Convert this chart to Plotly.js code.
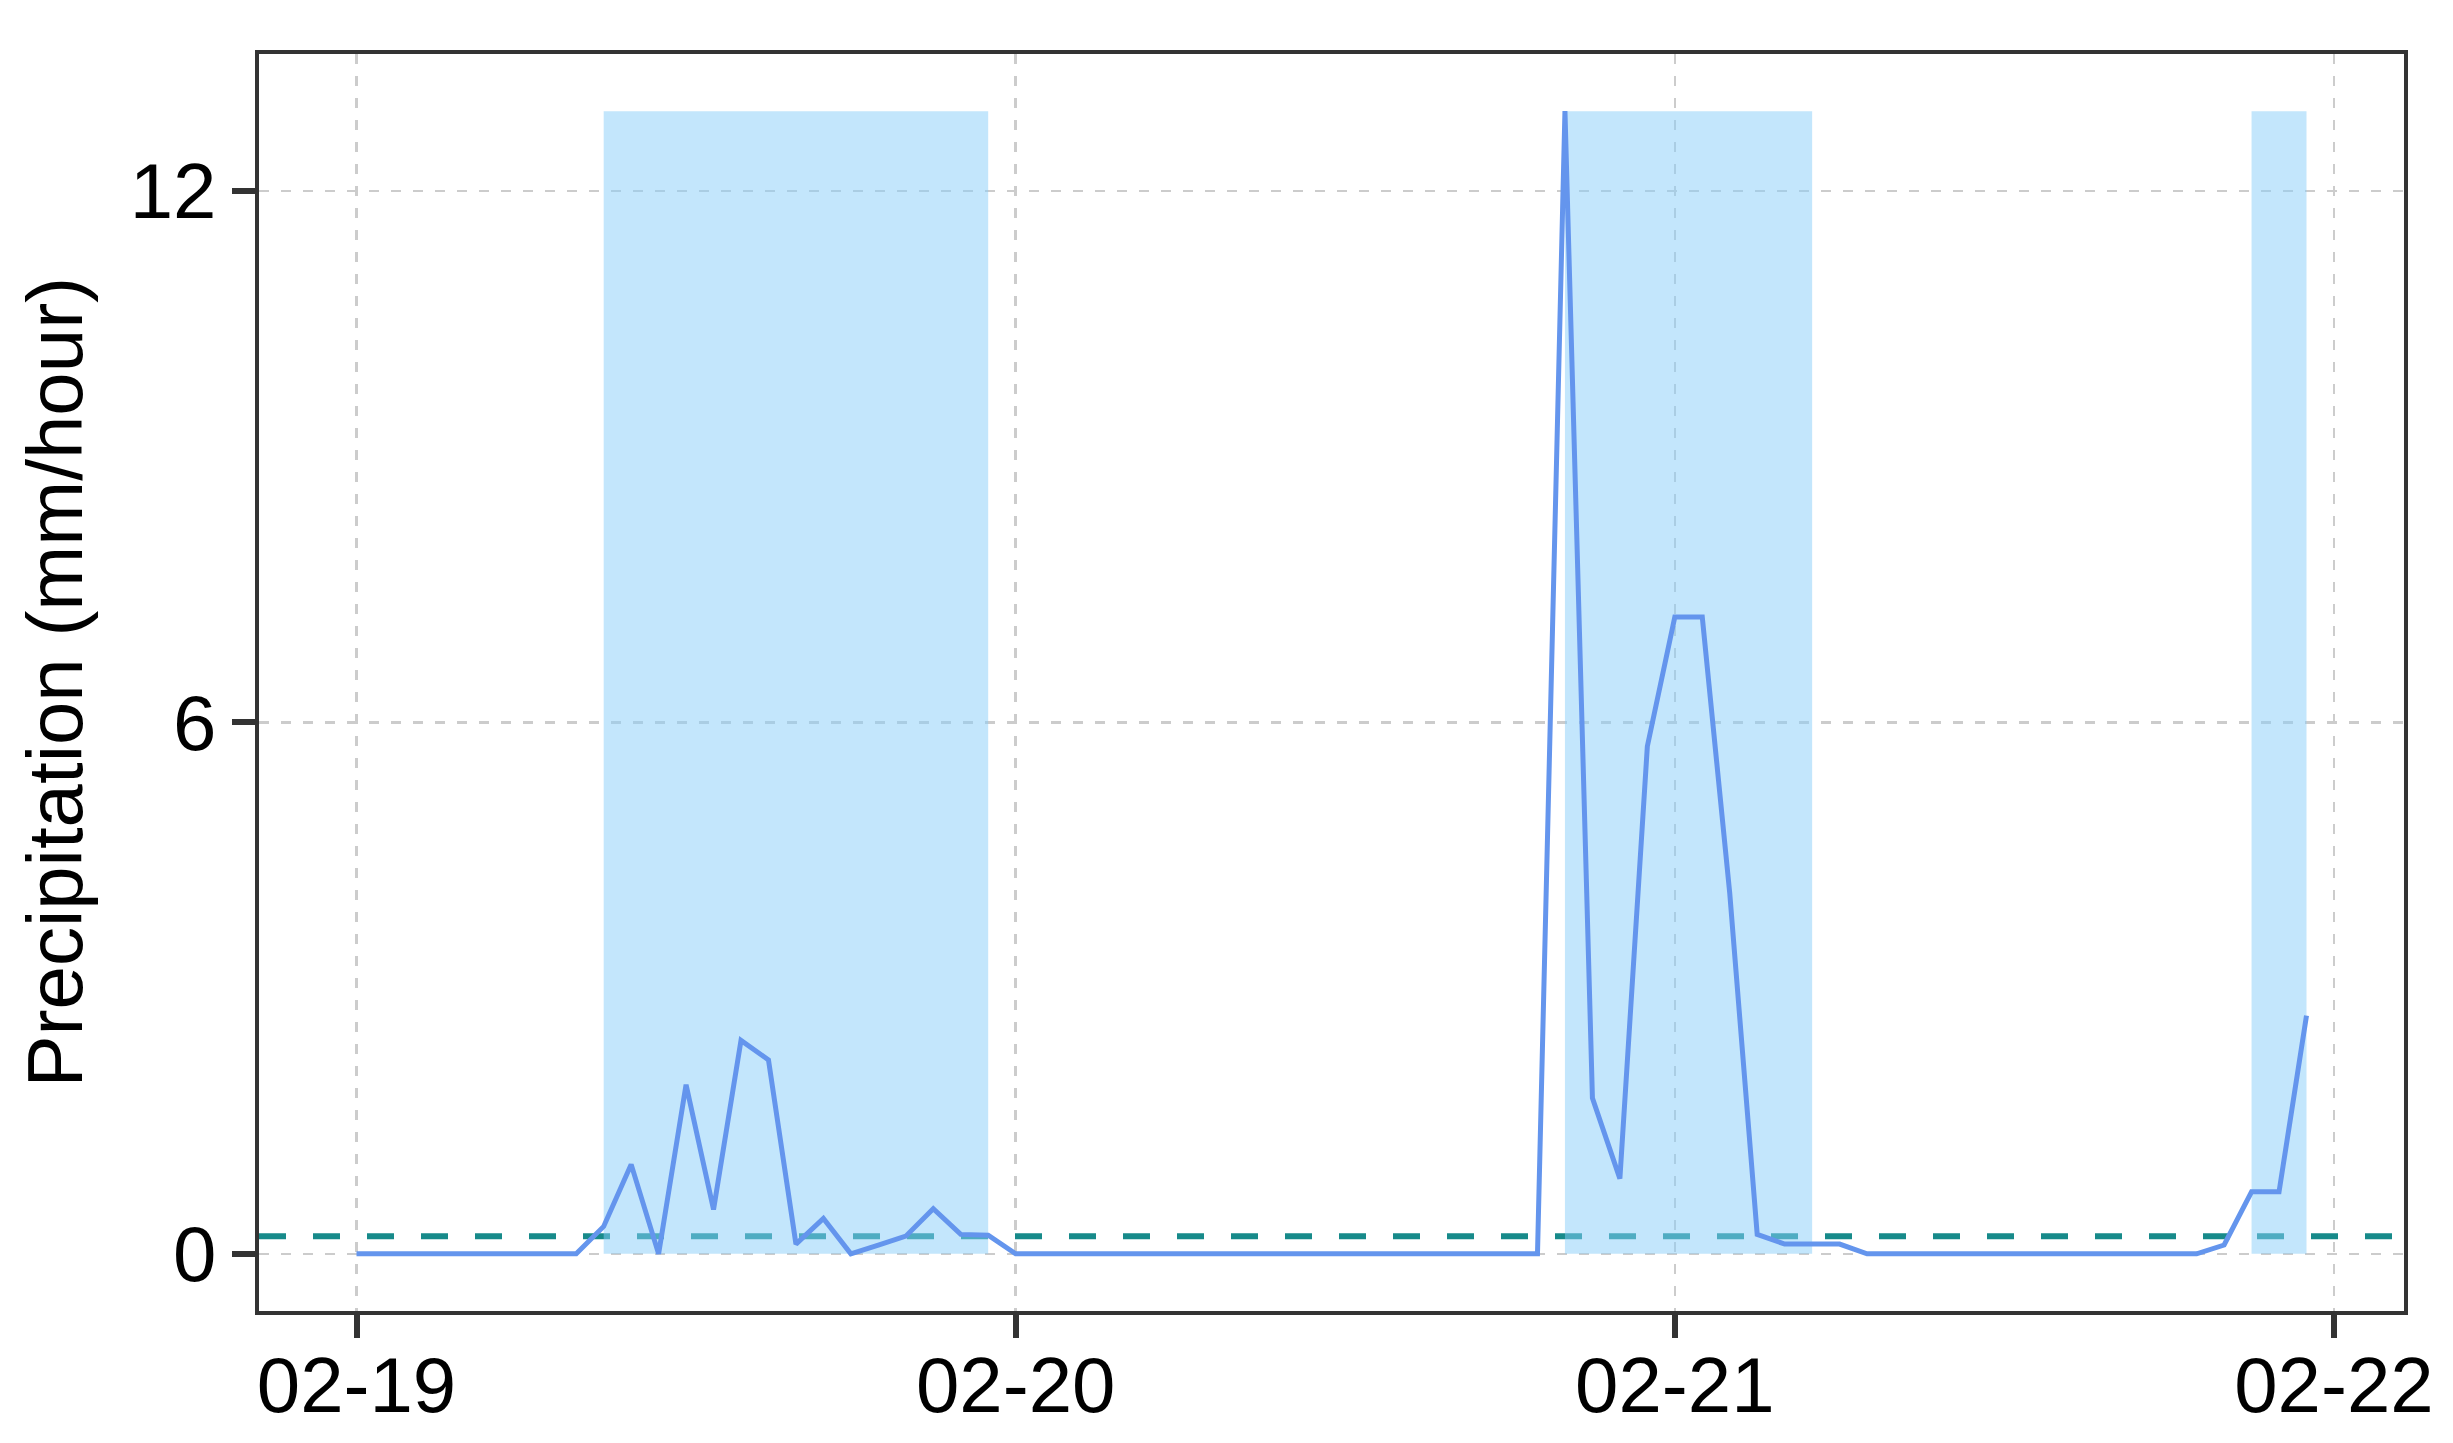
<!DOCTYPE html>
<html>
<head>
<meta charset="utf-8">
<script src="https://cdn.plot.ly/plotly-3.0.1.min.js"></script>
<style>
  html, body { margin: 0; padding: 0; background: #ffffff; }
  #chart { width: 2453px; height: 1443px; }
</style>
</head>
<body>
<div id="chart"></div>
<script>
// hourly precipitation, starting 02-19 00:00
const startTime = "2019-02-19T00:00:00";
const precip = [
    0, 0, 0, 0, 0, 0, 0, 0, 0, 0.31, 1.01, 0,
    1.91, 0.50, 2.41, 2.19, 0.11, 0.40, 0, 0.10, 0.20, 0.51, 0.22, 0.21,
    0, 0, 0, 0, 0, 0, 0, 0, 0, 0, 0, 0,
    0, 0, 0, 0, 0, 0, 0, 0, 12.9, 1.76, 0.85, 5.73,
    7.19, 7.19, 4.07, 0.22, 0.11, 0.11, 0.11, 0, 0, 0, 0, 0,
    0, 0, 0, 0, 0, 0, 0, 0, 0.10, 0.70, 0.70, 2.69
];

// rain events (shaded periods)
const eventStart = ["2019-02-19 09:00", "2019-02-20 20:00", "2019-02-21 21:00"];
const eventEnd = ["2019-02-19 23:00", "2019-02-21 05:00", "2019-02-21 23:00"];

const threshold = 0.2;

const xTicks = ["2019-02-19", "2019-02-20", "2019-02-21", "2019-02-22"];
const yTicks = [0, 6, 12];
const yTitle = "Precipitation (mm/hour)";

// timestamps
const HOUR = 3600 * 1000;
const t0 = new Date(startTime + "Z").getTime();
const times = precip.map((_, i) => new Date(t0 + i * HOUR).toISOString().slice(0, 16).replace("T", " "));

// ggplot-like 5% expansion
const tFirst = t0;
const tLast = t0 + (precip.length - 1) * HOUR;
const tPad = (tLast - tFirst) * 0.05;
const fmt = (ms) => new Date(ms).toISOString().slice(0, 19).replace("T", " ");
const yMax = Math.max(...precip);
const yPad = yMax * 0.05;

const FONT = "Liberation Sans, Arial, sans-serif";

const shapes = [];
// threshold line (under the shading)
shapes.push({
    type: "line", xref: "paper", x0: 0, x1: 1,
    yref: "y", y0: threshold, y1: threshold,
    layer: "between",
    line: { color: "#178a8a", width: 6, dash: "27px,27px" }
});
for (let i = 0; i < eventStart.length; i++) {
    shapes.push({
        type: "rect", xref: "x", x0: eventStart[i], x1: eventEnd[i],
        yref: "y", y0: 0, y1: yMax,
        layer: "between",
        fillcolor: "rgba(135, 206, 250, 0.5)",
        line: { width: 0 }
    });
}

const traces = [
    {
        x: times,
        y: precip,
        type: "scatter",
        mode: "lines",
        line: { color: "#6495ed", width: 5 },
        hoverinfo: "x+y",
        showlegend: false
    }
];

const axisCommon = {
    showline: true,
    mirror: true,
    linecolor: "#333333",
    linewidth: 4,
    ticks: "outside",
    ticklen: 23,
    tickwidth: 6,
    tickcolor: "#333333",
    showgrid: true,
    gridcolor: "#cccccc",
    gridwidth: 2.5,
    griddash: "10px,12px",
    zeroline: false,
    tickfont: { family: FONT, size: 78, color: "#000000" }
};

const layout = {
    width: 2453,
    height: 1443,
    paper_bgcolor: "#ffffff",
    plot_bgcolor: "#ffffff",
    margin: { l: 259, r: 49, t: 54, b: 132 },
    showlegend: false,
    xaxis: Object.assign({}, axisCommon, {
        type: "date",
        range: [fmt(tFirst - tPad), fmt(tLast + tPad)],
        tickmode: "array",
        tickvals: xTicks,
        ticktext: xTicks.map((d) => d.slice(5)),
        ticklabelstandoff: -20
    }),
    yaxis: Object.assign({}, axisCommon, {
        range: [-yPad, yMax + yPad],
        tickmode: "array",
        tickvals: yTicks,
        ticktext: yTicks.map(String),
        ticklabelstandoff: 0
    }),
    annotations: [
        {
            text: yTitle,
            xref: "paper", x: 0, xanchor: "center", xshift: -205,
            yref: "paper", y: 0.5, yanchor: "middle",
            textangle: -90,
            showarrow: false,
            font: { family: FONT, size: 78, color: "#000000" }
        }
    ],
    shapes: shapes
};

Plotly.newPlot("chart", traces, layout, { displayModeBar: false, staticPlot: true });
</script>
</body>
</html>
